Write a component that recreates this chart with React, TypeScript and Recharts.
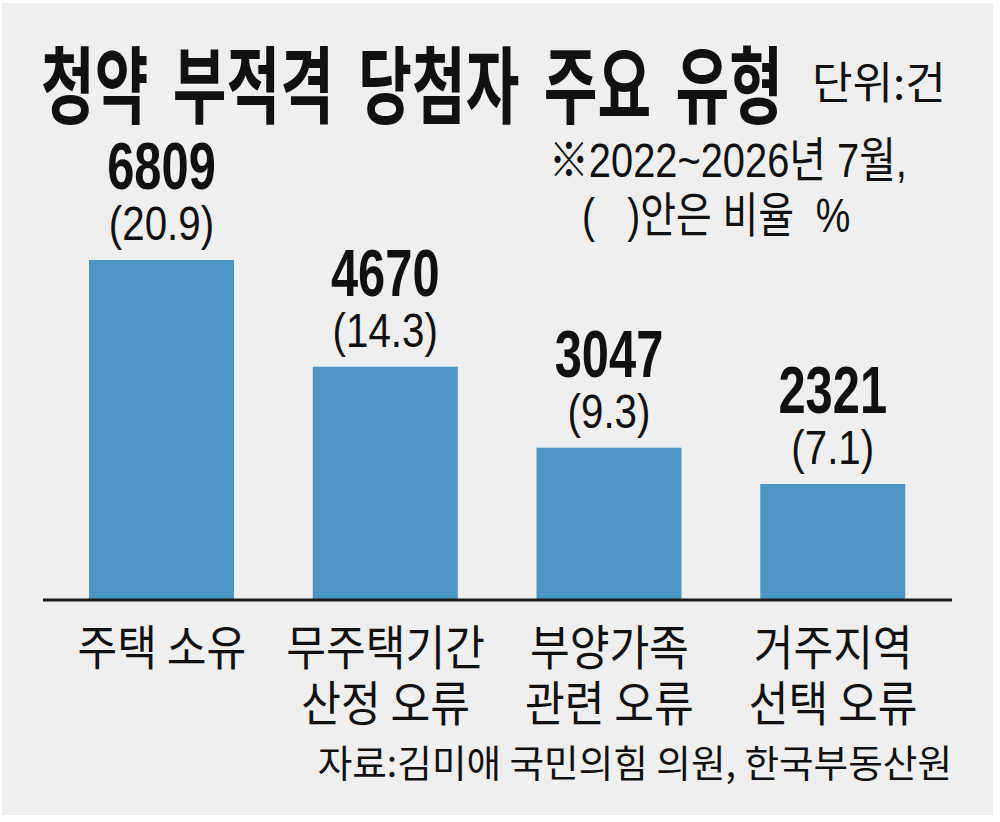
import { BarChart, Bar, XAxis, YAxis, LabelList } from 'recharts'

const CATEGORIES = ['주택 소유', '무주택기간 산정 오류', '부양가족 관련 오류', '거주지역 선택 오류']
const TICK_LINES = [['주택 소유'], ['무주택기간', '산정 오류'], ['부양가족', '관련 오류'], ['거주지역', '선택 오류']]
const COUNTS = [6809, 4670, 3047, 2321]
const SHARES = [20.9, 14.3, 9.3, 7.1]

const TITLE = '청약 부적격 당첨자 주요 유형'
const UNIT = '단위:건'
const NOTE_1 = '※2022~2026년 7월,'
const NOTE_2 = '(   )안은 비율  %'
const SOURCE = '자료:김미애 국민의힘 의원, 한국부동산원'

const BAR_COLOR = '#4b96c5'
const KR = '"Noto Sans CJK KR", sans-serif'
const NUM = '"Liberation Sans", "Noto Sans CJK KR", sans-serif'

const data = CATEGORIES.map((name, i) => ({
  name,
  count: COUNTS[i],
  share: `(${SHARES[i].toFixed(1)})`,
}))

function pos(props: any) {
  const vb = props.viewBox ?? {}
  const x = props.x ?? vb.x
  const y = props.y ?? vb.y
  const width = props.width ?? vb.width
  return { cx: x + width / 2, y }
}

const CountLabel = (props: any) => {
  const { cx, y } = pos(props)
  return (
    <text
      transform={`translate(${cx},${y - 71}) scale(0.74,1)`}
      textAnchor="middle"
      fontFamily={NUM}
      fontWeight={700}
      fontSize={66}
      fill="#111"
    >
      {props.value}
    </text>
  )
}

const ShareLabel = (props: any) => {
  const { cx, y } = pos(props)
  return (
    <text
      transform={`translate(${cx},${y - 20}) scale(0.84,1)`}
      textAnchor="middle"
      fontFamily={NUM}
      fontSize={48}
      fill="#111"
    >
      {props.value}
    </text>
  )
}

// two-line category labels under the axis
const CategoryTick = (props: any) => {
  const { x, y, payload } = props
  const lines = TICK_LINES[payload.index] ?? [payload.value]
  return (
    <g>
      {lines.map((line, i) => (
        <text
          key={i}
          transform={`translate(${x},${y + 65 + i * 56}) scale(0.9,1)`}
          textAnchor="middle"
          fontFamily={KR}
          fontSize={48}
          fill="#111"
        >
          {line}
        </text>
      ))}
    </g>
  )
}

export default function App() {
  return (
    <div style={{ position: 'absolute', left: 0, top: 0, width: 1000, height: 822, background: '#fff' }}>
      <div style={{ position: 'absolute', left: 2, top: 3, width: 991, height: 812, background: '#efefef' }} />
      <div style={{ position: 'absolute', left: 0, top: 0 }}>
        <BarChart width={1000} height={822} data={data} margin={{ top: 260, right: 48, left: 43, bottom: 92 }}>
          <YAxis hide domain={[0, 'dataMax']} />
          <XAxis
            dataKey="name"
            height={130}
            padding={{ left: 7, right: 7 }}
            axisLine={{ stroke: '#1a1a1a', strokeWidth: 3 }}
            tickLine={false}
            tickSize={0}
            tickMargin={0}
            interval={0}
            tick={<CategoryTick />}
          />
          <Bar dataKey="count" fill={BAR_COLOR} barSize={145} isAnimationActive={false}>
            <LabelList dataKey="count" content={<CountLabel />} />
            <LabelList dataKey="share" content={<ShareLabel />} />
          </Bar>
        </BarChart>
      </div>
      <svg width={1000} height={822} style={{ position: 'absolute', left: 0, top: 0, pointerEvents: 'none' }}>
        <text
          transform="translate(41,117) scale(0.695,1)"
          fontFamily={KR}
          fontWeight={700}
          fontSize={84}
          wordSpacing={16}
          fill="#111"
        >
          {TITLE}
        </text>
        <text transform="translate(812,99)" fontFamily={KR} fontSize={44} fill="#111">
          {UNIT}
        </text>
        <text transform="translate(549,177) scale(0.83,1)" fontFamily={NUM} fontSize={48} fill="#111">
          {NOTE_1}
        </text>
        <text
          transform="translate(582,232) scale(0.81,1)"
          fontFamily={NUM}
          fontSize={48}
          fill="#111"
          style={{ whiteSpace: 'pre' }}
        >
          {NOTE_2}
        </text>
        <text transform="translate(952,777) scale(0.99,1)" textAnchor="end" fontFamily={KR} fontSize={38} fill="#111">
          {SOURCE}
        </text>
      </svg>
    </div>
  )
}
